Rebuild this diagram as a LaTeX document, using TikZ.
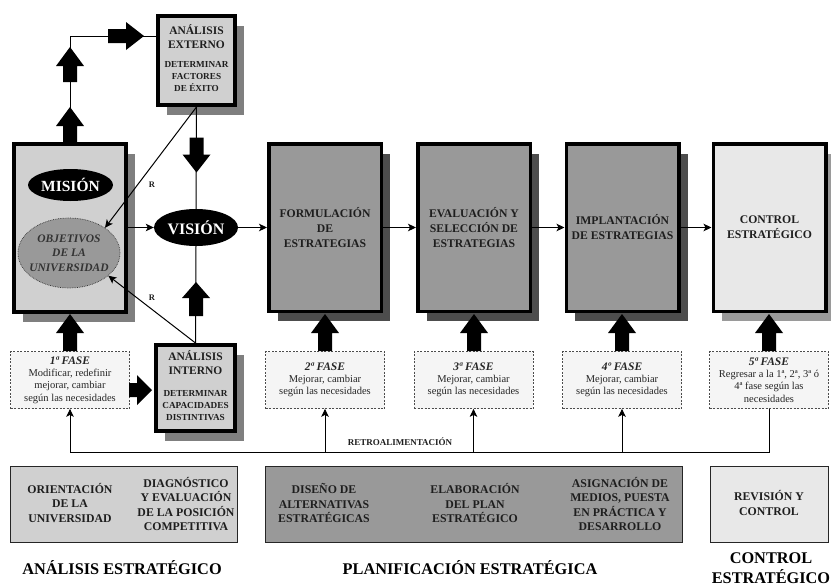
\documentclass[tikz,border=0pt]{standalone}
\usepackage{fontspec}
\setmainfont{Liberation Serif}
\usetikzlibrary{shapes.geometric,shadows,arrows.meta}

\definecolor{lightbox}{HTML}{D0D0D0}
\definecolor{midbox}{HTML}{999999}
\definecolor{palebox}{HTML}{E8E8E8}
\definecolor{shadowdark}{HTML}{4D4D4D}
\definecolor{shadowmid}{HTML}{7F7F7F}
\definecolor{shadowlight}{HTML}{9A9A9A}
\definecolor{phasefill}{HTML}{F5F5F5}
\definecolor{inktext}{HTML}{1E1E1E}

\newcommand\phasehead[1]{{\fontsize{11.5}{12.3}\selectfont\bfseries\itshape #1}}
% thick block arrow: centre x, centre y, direction angle, length, head length
\newcommand\bigarrow[5]{%
  \fill[black, shift={(#1,#2)}, rotate=#3]
    (-#4/2,-7) -- (#4/2-#5,-7) -- (#4/2-#5,-14) -- (#4/2,0) --
    (#4/2-#5,14) -- (#4/2-#5,7) -- (-#4/2,7) -- cycle;}

\begin{document}
\begin{tikzpicture}[x=1pt,y=-1pt,
  every node/.style={text=inktext},
  conn/.style={line width=1pt, draw=black},
  arrowed/.style={-{Stealth[length=8pt,width=7.5pt,inset=2pt]}},
  stagebox/.style={draw=black, line width=3.5pt, minimum width=112.5pt,
    minimum height=167.5pt, inner sep=1pt, align=center,
    font=\fontsize{11.7}{15}\selectfont\bfseries},
  darkshade/.style={drop shadow={shadow xshift=9pt,shadow yshift=-10pt,fill=shadowdark,opacity=1}},
  midshade/.style={drop shadow={shadow xshift=9pt,shadow yshift=-10pt,fill=shadowmid,opacity=1}},
  lightshade/.style={drop shadow={shadow xshift=9pt,shadow yshift=-10pt,fill=shadowlight,opacity=1}},
  anbox/.style={draw=black, line width=4pt, fill=lightbox, inner sep=0pt},
  antitle/.style={font=\fontsize{11.5}{14}\selectfont\bfseries, align=center},
  ansub/.style={font=\fontsize{9.2}{12}\selectfont\bfseries, align=center},
  phase/.style={draw=black!70, dash pattern=on 2pt off 1.5pt, line width=0.7pt,
    fill=phasefill, minimum width=119pt, minimum height=57pt, inner sep=1pt,
    align=center, font=\fontsize{10.5}{12.3}\selectfont, text=black!85},
  secbox/.style={draw=black!85, line width=0.8pt, minimum height=76pt, inner sep=0pt},
  sectext/.style={font=\fontsize{11.8}{14.2}\selectfont\bfseries, align=center},
  seclabel/.style={font=\fontsize{16.3}{20}\selectfont\bfseries, align=center, text=black},
  rlabel/.style={font=\fontsize{8.5}{9}\selectfont\bfseries}
]
\useasboundingbox (0,0) rectangle (831,587);

% ---------- analysis column ----------
\node[anbox, minimum width=111.5pt, minimum height=168pt, midshade] (orient) at (70,227.5) {};
\node[ellipse, fill=black, minimum width=85pt, minimum height=32pt, inner sep=0pt,
  text=white, font=\fontsize{15.5}{16}\selectfont\bfseries] (mision) at (70.5,185) {MISIÓN};
\node[ellipse, draw=black!80, densely dotted, line width=0.7pt, fill=midbox,
  minimum width=102pt, minimum height=70pt, inner sep=0pt] (objet) at (69,253) {};
\node[font=\fontsize{11.5}{14.5}\selectfont\bfseries\itshape, align=center, text=black!80]
  (objettext) at (objet.center) {OBJETIVOS\\DE LA\\UNIVERSIDAD};

\node[anbox, minimum width=77pt, minimum height=89pt, midshade] (externo) at (196.5,60.5) {};
\node[antitle] (extA) at (196.5,37) {ANÁLISIS\\EXTERNO};
\node[ansub] (extB) at (196.5,77) {DETERMINAR\\FACTORES\\DE ÉXITO};

\node[anbox, minimum width=79pt, minimum height=86pt, midshade] (interno) at (195.5,388) {};
\node[antitle] (intA) at (195.5,363) {ANÁLISIS\\INTERNO};
\node[ansub] (intB) at (195.5,406) {DETERMINAR\\CAPACIDADES\\DISTINTIVAS};

\node[ellipse, fill=black, minimum width=84pt, minimum height=37pt, inner sep=0pt,
  text=white, font=\fontsize{16}{16}\selectfont\bfseries] (vision) at (196,227.5) {VISIÓN};

% ---------- strategy stages ----------
\node[stagebox, fill=midbox, darkshade] (formul) at (325,227.5) {FORMULACIÓN\\DE\\ESTRATEGIAS};
\node[stagebox, fill=midbox, darkshade] (evalua) at (474,227.5) {EVALUACIÓN Y\\SELECCIÓN DE\\ESTRATEGIAS};
\node[stagebox, fill=midbox, darkshade] (implan) at (622.5,227.5) {IMPLANTACIÓN\\DE ESTRATEGIAS};
\node[stagebox, fill=palebox, lightshade] (contro) at (769.5,227.5) {CONTROL\\ESTRATÉGICO};

% ---------- phase boxes ----------
\node[phase] (f1) at (70,380) {\phasehead{1ª FASE}\\Modificar, redefinir\\mejorar, cambiar\\según las necesidades};
\node[phase] (f2) at (325,380) {\phasehead{2ª FASE}\\Mejorar, cambiar\\según las necesidades};
\node[phase] (f3) at (473.5,380) {\phasehead{3ª FASE}\\Mejorar, cambiar\\según las necesidades};
\node[phase] (f4) at (622,380) {\phasehead{4º FASE}\\Mejorar, cambiar\\según las necesidades};
\node[phase] (f5) at (769,380) {\phasehead{5ª FASE}\\Regresar a la 1ª, 2ª, 3ª ó\\4ª fase según las\\necesidades};

% ---------- thin connectors ----------
\coordinate (c1) at (70,36);
\coordinate (fbl) at (0,452);
\draw[conn] (orient.north) -- (c1) -- (externo.west |- c1);
\draw[conn] (externo.south) -- (vision.north);
\draw[conn] (vision.south) -- (interno.north);
\draw[conn, arrowed] (externo.south) -- (objet.35);
\draw[conn, arrowed] (interno.north) -- (objet.-30);
\node[rlabel] (rtop) at (152,185) {R};
\node[rlabel] (rbot) at (152,298) {R};

\draw[conn, arrowed] (orient.east) -- (vision.west);
\draw[conn, arrowed] (vision.east) -- (formul.west);
\draw[conn, arrowed] (formul.east) -- (evalua.west);
\draw[conn, arrowed] (evalua.east) -- (implan.west);
\draw[conn, arrowed] (implan.east) -- (contro.west);

% feedback loop
\draw[conn] (f5.south) -- (f5.south |- fbl) -- (f1.south |- fbl);
\foreach \ph in {f1,f2,f3,f4}{
  \draw[conn, arrowed] (\ph.south |- fbl) -- (\ph.south);
}
\node[font=\fontsize{9}{9}\selectfont\bfseries] (retro) at (400,442) {RETROALIMENTACIÓN};

% ---------- block arrows ----------
\bigarrow{70}{124.5}{90}{35}{19}
\bigarrow{70}{64.5}{90}{35}{19}
\bigarrow{126}{36}{0}{36}{18}
\bigarrow{196.5}{155}{-90}{35}{18}
\bigarrow{196}{299}{90}{34}{16}
\fill[black, shift={(140.5,390)}]
  (-11.5,-7) -- (-3.5,-7) -- (-3.5,-15) -- (11.5,0) -- (-3.5,15) -- (-3.5,7) -- (-11.5,7) -- cycle;
\foreach \xx in {70,325,474,622,769}{
  \bigarrow{\xx}{332.5}{90}{37}{19}
}

% ---------- summary band ----------
\node[secbox, fill=lightbox, minimum width=227pt] (sec1) at (123.5,504) {};
\node[secbox, fill=midbox, minimum width=417pt] (sec2) at (473.5,504) {};
\node[secbox, fill=palebox, minimum width=118pt] (sec3) at (769,504) {};

\node[sectext] (s1a) at (70,503) {ORIENTACIÓN\\DE LA\\UNIVERSIDAD};
\node[sectext] (s1b) at (186,504) {DIAGNÓSTICO\\Y EVALUACIÓN\\DE LA POSICIÓN\\COMPETITIVA};
\node[sectext] (s2a) at (324,503) {DISEÑO DE\\ALTERNATIVAS\\ESTRATÉGICAS};
\node[sectext] (s2b) at (475,503) {ELABORACIÓN\\DEL PLAN\\ESTRATÉGICO};
\node[sectext] (s2c) at (620,504) {ASIGNACIÓN DE\\MEDIOS, PUESTA\\EN PRÁCTICA Y\\DESARROLLO};
\node[sectext] (s3a) at (769,503) {REVISIÓN Y\\CONTROL};

\node[seclabel] (lab1) at (122,568) {ANÁLISIS ESTRATÉGICO};
\node[seclabel] (lab2) at (470,568) {PLANIFICACIÓN ESTRATÉGICA};
\node[seclabel] (lab3) at (771,568) {CONTROL\\ESTRATÉGICO};
\end{tikzpicture}
\end{document}
